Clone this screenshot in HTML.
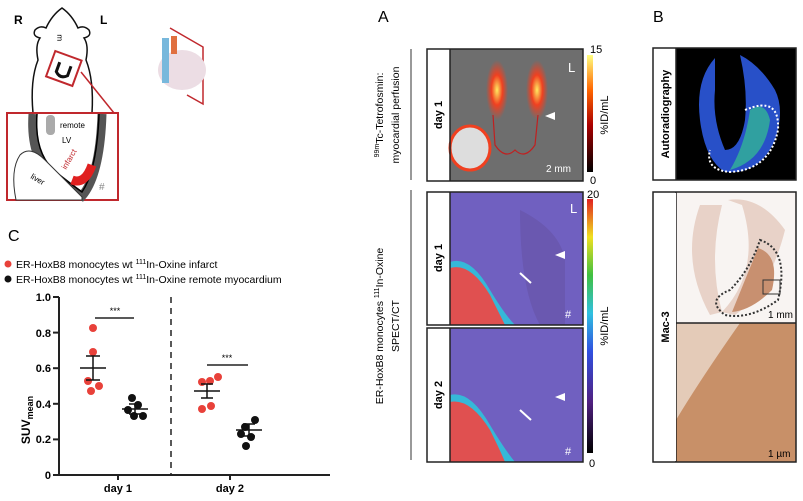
<!DOCTYPE html>
<html><head><style>
body{margin:0;background:#fff;width:803px;height:501px;overflow:hidden;position:relative;font-family:"Liberation Sans",sans-serif}
.abs{position:absolute}
</style></head><body>
<svg class="abs" style="left:0;top:0" width="803" height="501">
<defs>
<linearGradient id="hot" x1="0" y1="1" x2="0" y2="0"><stop offset="0" stop-color="#000"/><stop offset=".4" stop-color="#a00"/><stop offset=".7" stop-color="#f60"/><stop offset="1" stop-color="#ffff80"/></linearGradient>
<linearGradient id="jet" x1="0" y1="1" x2="0" y2="0"><stop offset="0" stop-color="#000"/><stop offset=".2" stop-color="#502080"/><stop offset=".4" stop-color="#3050e0"/><stop offset=".55" stop-color="#30c0e0"/><stop offset=".7" stop-color="#40c040"/><stop offset=".85" stop-color="#f0e020"/><stop offset="1" stop-color="#e02020"/></linearGradient>
<radialGradient id="bl"><stop offset="0" stop-color="#ffea60"/><stop offset=".5" stop-color="#f04020"/><stop offset="1" stop-color="#f04020" stop-opacity="0"/></radialGradient>
</defs>
<!-- mouse -->
<text x="14" y="24" font-size="12" font-weight="bold">R</text>
<text x="100" y="24" font-size="12" font-weight="bold">L</text>
<path d="M33 113 Q30 80 38 60 Q35 45 40 38 Q32 36 35 30 Q40 25 46 28 Q52 15 62 8 Q72 15 78 28 Q84 25 89 30 Q92 36 84 38 Q89 45 86 60 Q94 80 92 113" fill="#fff" stroke="#111" stroke-width="1.5"/>
<text x="57" y="40" font-size="8">ᴟ</text>
<g transform="rotate(20 64 68)"><rect x="50" y="55" width="28" height="27" fill="#fff" stroke="#c0282d" stroke-width="2"/>
<path d="M58 64 L58 74 Q64 80 70 74 L70 64" fill="none" stroke="#111" stroke-width="3"/></g>
<line x1="81" y1="72" x2="114" y2="113" stroke="#c0282d" stroke-width="1.5"/>
<rect x="7" y="113" width="111" height="87" fill="#fff" stroke="#c0282d" stroke-width="2"/>
<path d="M33 114 Q30 160 55 178 Q75 192 82 196 Q100 175 102 114" fill="none" stroke="#555" stroke-width="9"/>
<path d="M37 114 Q34 155 57 173 Q75 187 82 192 Q97 170 99 114" fill="none" stroke="#000" stroke-width="1.5"/>
<rect x="46" y="115" width="9" height="20" rx="4" fill="#aaa"/>
<path d="M72 180 Q85 185 92 165" stroke="#e02020" stroke-width="9" fill="none"/>
<path d="M20 155 Q30 145 45 160 Q70 185 82 197 L82 200 L16 200 Q10 170 20 155Z" fill="#fff" stroke="#333"/>
<text x="60" y="128" font-size="8">remote</text><text x="62" y="143" font-size="8">LV</text>
<text transform="translate(66,170) rotate(-60)" font-size="8" fill="#c0282d">infarct</text>
<text transform="translate(30,178) rotate(30)" font-size="8">liver</text>
<text x="99" y="190" font-size="10" fill="#888">#</text>
<path d="M170 28 L203 47 L203 104 L187 95" fill="none" stroke="#c0282d" stroke-width="1.5"/>
<ellipse cx="182" cy="70" rx="24" ry="20" fill="#ecdde4"/>
<rect x="162" y="38" width="7" height="45" fill="#78b8dc"/><rect x="171" y="36" width="6" height="18" fill="#e07040"/>
<!-- C -->
<text x="8" y="241" font-size="16">C</text>
<circle cx="8" cy="264" r="3.5" fill="#e8413a"/><text x="16" y="268" font-size="10.5">ER-HoxB8 monocytes wt <tspan font-size="7" dy="-4">111</tspan><tspan dy="4">In-Oxine infarct</tspan></text>
<circle cx="8" cy="279" r="3.5" fill="#111"/><text x="16" y="283" font-size="10.5">ER-HoxB8 monocytes wt <tspan font-size="7" dy="-4">111</tspan><tspan dy="4">In-Oxine remote myocardium</tspan></text>
<g stroke="#222" stroke-width="2"><line x1="59" y1="297" x2="59" y2="476"/><line x1="58" y1="475" x2="330" y2="475"/>
<line x1="53" y1="297" x2="59" y2="297"/><line x1="53" y1="332.6" x2="59" y2="332.6"/><line x1="53" y1="368.2" x2="59" y2="368.2"/><line x1="53" y1="403.8" x2="59" y2="403.8"/><line x1="53" y1="439.4" x2="59" y2="439.4"/><line x1="53" y1="475" x2="59" y2="475"/>
<line x1="118" y1="475" x2="118" y2="480"/><line x1="230" y1="475" x2="230" y2="480"/></g>
<g font-size="11" font-weight="bold" text-anchor="end"><text x="51" y="301">1.0</text><text x="51" y="337">0.8</text><text x="51" y="372">0.6</text><text x="51" y="408">0.4</text><text x="51" y="443">0.2</text><text x="51" y="479">0</text></g>
<g font-size="11" font-weight="bold" text-anchor="middle"><text x="118" y="492">day 1</text><text x="230" y="492">day 2</text></g>
<text transform="translate(30,420) rotate(-90)" font-size="12" font-weight="bold" text-anchor="middle">SUV<tspan font-size="9" dy="3">mean</tspan></text>
<line x1="171" y1="297" x2="171" y2="475" stroke="#222" stroke-width="1.5" stroke-dasharray="6,5"/>
<line x1="95" y1="318" x2="134" y2="318" stroke="#222" stroke-width="1.5"/><text x="115" y="314" font-size="9" text-anchor="middle">***</text>
<line x1="207" y1="365" x2="248" y2="365" stroke="#222" stroke-width="1.5"/><text x="227" y="361" font-size="9" text-anchor="middle">***</text>
<g fill="#e8413a"><circle cx="93" cy="328" r="4"/><circle cx="93" cy="352" r="4"/><circle cx="88" cy="381" r="4"/><circle cx="99" cy="386" r="4"/><circle cx="91" cy="391" r="4"/>
<circle cx="202" cy="382" r="4"/><circle cx="210" cy="381" r="4"/><circle cx="218" cy="377" r="4"/><circle cx="202" cy="409" r="4"/><circle cx="211" cy="406" r="4"/></g>
<g fill="#111"><circle cx="132" cy="398" r="4"/><circle cx="138" cy="405" r="4"/><circle cx="128" cy="410" r="4"/><circle cx="134" cy="416" r="4"/><circle cx="143" cy="416" r="4"/>
<circle cx="245" cy="427" r="4"/><circle cx="255" cy="420" r="4"/><circle cx="241" cy="434" r="4"/><circle cx="251" cy="437" r="4"/><circle cx="246" cy="446" r="4"/></g>
<g stroke="#111" stroke-width="1.5" fill="none">
<line x1="80" y1="368" x2="106" y2="368"/><line x1="93" y1="356" x2="93" y2="380"/><line x1="86" y1="356" x2="100" y2="356"/><line x1="86" y1="380" x2="100" y2="380"/>
<line x1="122" y1="409" x2="148" y2="409"/><line x1="135" y1="404" x2="135" y2="414"/><line x1="129" y1="404" x2="141" y2="404"/><line x1="129" y1="414" x2="141" y2="414"/>
<line x1="194" y1="391" x2="220" y2="391"/><line x1="207" y1="384" x2="207" y2="398"/><line x1="201" y1="384" x2="213" y2="384"/><line x1="201" y1="398" x2="213" y2="398"/>
<line x1="236" y1="430" x2="262" y2="430"/><line x1="249" y1="424" x2="249" y2="436"/><line x1="243" y1="424" x2="255" y2="424"/><line x1="243" y1="436" x2="255" y2="436"/></g>
<!-- A -->
<text x="378" y="22" font-size="16">A</text><text x="653" y="22" font-size="16">B</text>
<line x1="411" y1="49" x2="411" y2="180" stroke="#333"/><line x1="411" y1="190" x2="411" y2="460" stroke="#333"/>
<rect x="450" y="49" width="133" height="132" fill="#6e6e6e"/>
<ellipse cx="497" cy="90" rx="11" ry="30" fill="url(#bl)"/><ellipse cx="537" cy="90" rx="11" ry="30" fill="url(#bl)"/>
<path d="M493 115 L495 145 Q505 160 515 150 Q525 160 535 145 L538 115" fill="none" stroke="#c02020" stroke-width="1.2"/>
<ellipse cx="470" cy="148" rx="20" ry="22" fill="#ddd" stroke="#f04020" stroke-width="3"/>
<polygon points="555,112 545,116 555,120" fill="#fff"/>
<rect x="427" y="49" width="156" height="132" fill="none" stroke="#222" stroke-width="1.5"/><line x1="450" y1="49" x2="450" y2="181" stroke="#222" stroke-width="1.5"/>
<text transform="translate(442,115) rotate(-90)" font-size="11" font-weight="bold" text-anchor="middle">day 1</text>
<text x="568" y="72" font-size="13" fill="#fff">L</text><text x="546" y="172" font-size="10" fill="#fff">2 mm</text>
<rect x="587" y="55" width="6" height="117" fill="url(#hot)"/>
<text x="590" y="53" font-size="11">15</text><text x="590" y="184" font-size="11">0</text>
<text transform="translate(608,115) rotate(-90)" font-size="11" text-anchor="middle">%ID/mL</text>
<text transform="translate(383,115) rotate(-90)" font-size="10.5" text-anchor="middle"><tspan font-size="7" dy="-4">99m</tspan><tspan dy="4">Tc-Tetrofosmin:</tspan></text>
<text transform="translate(399,115) rotate(-90)" font-size="10.5" text-anchor="middle">myocardial perfusion</text>
<rect x="450" y="192" width="133" height="133" fill="#7060c0"/>
<path d="M520 210 Q560 230 565 260 L565 325 L540 325 Q520 290 520 210Z" fill="#6a58b0"/>
<path d="M450 262 Q470 255 490 290 Q505 315 515 325 L450 325Z" fill="#35b8d8"/>
<path d="M450 268 Q470 262 490 295 Q500 315 505 325 L450 325Z" fill="#e05050"/>
<rect x="450" y="328" width="133" height="134" fill="#7060c0"/>
<path d="M450 395 Q470 390 490 425 Q505 450 515 462 L450 462Z" fill="#35b8d8"/>
<path d="M450 402 Q470 398 490 430 Q500 450 505 462 L450 462Z" fill="#e05050"/>
<polygon points="565,251 555,255 565,259" fill="#fff"/><polygon points="565,393 555,397 565,401" fill="#fff"/>
<line x1="520" y1="273" x2="531" y2="283" stroke="#fff" stroke-width="2"/><line x1="520" y1="410" x2="531" y2="420" stroke="#fff" stroke-width="2"/>
<text x="565" y="318" font-size="11" fill="#fff">#</text><text x="565" y="455" font-size="11" fill="#fff">#</text>
<text x="570" y="213" font-size="13" fill="#fff">L</text>
<g fill="none" stroke="#222" stroke-width="1.5"><rect x="427" y="192" width="156" height="133"/><rect x="427" y="328" width="156" height="134"/><line x1="450" y1="192" x2="450" y2="325"/><line x1="450" y1="328" x2="450" y2="462"/></g>
<rect x="428" y="193" width="21" height="131" fill="#fff"/><rect x="428" y="329" width="21" height="132" fill="#fff"/>
<text transform="translate(442,258) rotate(-90)" font-size="11" font-weight="bold" text-anchor="middle">day 1</text>
<text transform="translate(442,395) rotate(-90)" font-size="11" font-weight="bold" text-anchor="middle">day 2</text>
<rect x="587" y="199" width="6" height="254" fill="url(#jet)"/>
<text x="587" y="198" font-size="11">20</text><text x="589" y="467" font-size="11">0</text>
<text transform="translate(608,326) rotate(-90)" font-size="11" text-anchor="middle">%ID/mL</text>
<text transform="translate(383,326) rotate(-90)" font-size="10.5" text-anchor="middle">ER-HoxB8 monocytes <tspan font-size="7" dy="-4">111</tspan><tspan dy="4">In-Oxine</tspan></text>
<text transform="translate(399,326) rotate(-90)" font-size="10.5" text-anchor="middle">SPECT/CT</text>
<!-- B -->
<rect x="676" y="48" width="120" height="132" fill="#000"/>
<path d="M715 58 Q695 80 700 120 Q705 160 725 172 Q760 175 775 140 Q785 110 775 90 Q760 65 740 55 Q748 90 745 120 Q740 150 725 150 Q712 120 715 90Z" fill="#2850c8"/>
<path d="M750 110 Q765 100 770 120 Q765 160 730 170 Q745 145 750 110Z" fill="#30a0a0"/>
<path d="M745 110 Q780 95 778 130 Q770 170 730 172 Q705 170 710 150" fill="none" stroke="#fff" stroke-width="2" stroke-dasharray="2,2"/>
<rect x="653" y="48" width="143" height="132" fill="none" stroke="#222" stroke-width="1.5"/><rect x="654" y="49" width="22" height="130" fill="#fff"/><line x1="676" y1="48" x2="676" y2="180" stroke="#222" stroke-width="1.5"/>
<text transform="translate(669,114) rotate(-90)" font-size="11" font-weight="bold" text-anchor="middle">Autoradiography</text>
<rect x="676" y="192" width="120" height="131" fill="#f8f4f2"/>
<path d="M700 205 Q680 260 710 315 L722 312 Q708 260 722 205Z" fill="#e8d2c8"/>
<path d="M728 200 Q760 195 785 230 Q770 290 735 315 L722 312 Q762 270 742 205Z" fill="#e8d2c8"/>
<path d="M758 248 Q780 255 772 290 Q752 310 732 312Z" fill="#c89070"/>
<path d="M760 240 Q790 250 778 300 Q750 320 725 315 Q705 300 730 290 Q750 270 760 240Z" fill="none" stroke="#333" stroke-width="2" stroke-dasharray="2,2"/>
<rect x="763" y="280" width="17" height="14" fill="none" stroke="#333"/>
<rect x="676" y="323" width="120" height="139" fill="#c89068"/>
<path d="M676 323 L740 323 Q700 380 676 420Z" fill="#e4cbb8"/>
<g fill="none" stroke="#222" stroke-width="1.5"><rect x="653" y="192" width="143" height="270"/><line x1="676" y1="192" x2="676" y2="462"/><line x1="676" y1="323" x2="796" y2="323"/></g>
<rect x="654" y="193" width="22" height="268" fill="#fff"/>
<text transform="translate(669,327) rotate(-90)" font-size="11" font-weight="bold" text-anchor="middle">Mac-3</text>
<text x="768" y="318" font-size="10">1 mm</text><text x="768" y="457" font-size="10">1 µm</text>
</svg>
</body></html>
